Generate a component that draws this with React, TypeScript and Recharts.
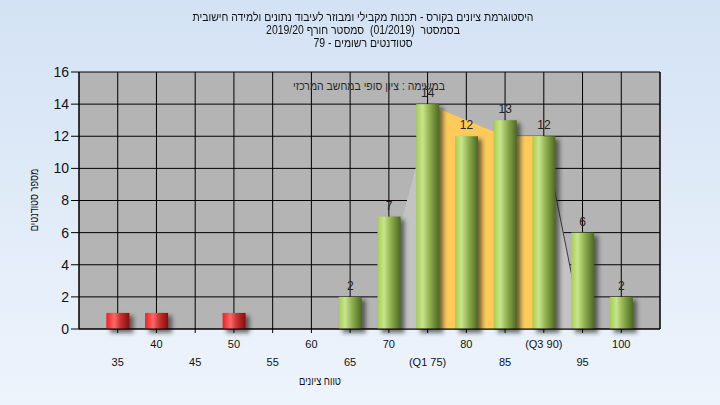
import { ComposedChart, Bar, Area, Line, XAxis, YAxis, CartesianGrid, LabelList } from "recharts";

// grade bins (x) and number of students in each bin
const categories = [35, 40, 45, 50, 55, 60, 65, 70, 75, 80, 85, 90, 95, 100];
const counts = [1, 1, 0, 1, 0, 0, 2, 7, 14, 12, 13, 12, 6, 2];
const tickLabels = ["35", "40", "45", "50", "55", "60", "65", "70", "(Q1 75)", "80", "85", "(Q3 90)", "95", "100"];
const passMark = 60; // bins below this are drawn red

// background shading
const spreadArea = [null, null, null, null, null, null, null, 3.8, 12.8, 12, 12, 12, 0, null];
const iqrArea = [null, null, null, null, null, null, null, null, 14, null, 12, 12, null, null];
const tailLine = [null, null, null, null, null, null, null, null, null, null, null, 12, 0, null];

const yTicks = [0, 2, 4, 6, 8, 10, 12, 14, 16];

const data = categories.map((c, i) => ({
  grade: c,
  count: counts[i],
  spread: spreadArea[i],
  iqr: iqrArea[i],
  tail: tailLine[i],
}));

const font = "'Liberation Sans', Arial, 'DejaVu Sans', sans-serif";

function GradeTick(props: any) {
  const { x, y, payload } = props;
  const i = categories.indexOf(payload.value);
  const lower = i % 2 === 0;
  return (
    <text x={x} y={y + (lower ? 31 : 13)} textAnchor="middle" fontSize={11} fill="#111">
      {tickLabels[i]}
    </text>
  );
}

function ShadedBar(props: any) {
  const { x, y, width, height, payload } = props;
  if (!height || height <= 0) return null;
  const grad = payload.grade < passMark ? "url(#failGrad)" : "url(#passGrad)";
  return (
    <g>
      <rect x={x + 4} y={y + 3} width={width} height={height + 1} fill="#1e1e1e" opacity={0.6} filter="url(#barShadow)" />
      <rect x={x} y={y} width={width} height={height} fill={grad} />
    </g>
  );
}

function CountLabel(props: any) {
  const { x, y, width, value, index } = props;
  if (!value || categories[index] < passMark) return null;
  return (
    <text x={x + width / 2} y={y - 7} textAnchor="middle" fontSize={12} fill="#222">
      {value}
    </text>
  );
}

export default function App() {
  return (
    <div
      style={{
        position: "absolute",
        left: 0,
        top: 0,
        width: 720,
        height: 405,
        background: "linear-gradient(to bottom, #d3e2f4, #eef4fc)",
        fontFamily: font,
        color: "#111",
      }}
    >
      <div
        dir="rtl"
        style={{
          position: "absolute",
          left: 0,
          top: 11,
          width: 726,
          textAlign: "center",
          fontSize: 12,
          lineHeight: "13px",
          whiteSpace: "pre",
          transform: "scaleX(0.87)",
          transformOrigin: "363px 0",
        }}
      >
        <div>היסטוגרמת ציונים בקורס - תכנות מקבילי ומבוזר לעיבוד נתונים ולמידה חישובית</div>
        <div>בסמסטר  (01/2019)  סמסטר חורף 2019/20</div>
        <div>סטודנטים רשומים - 79</div>
      </div>

      <ComposedChart width={720} height={405} data={data} margin={{ top: 72, right: 0, bottom: 0, left: 0 }}>
        <defs>
          <linearGradient id="passGrad" x1="0" y1="0" x2="1" y2="0">
            <stop offset="0%" stopColor="#a6cf4c" />
            <stop offset="28%" stopColor="#c8e48f" />
            <stop offset="55%" stopColor="#94b652" />
            <stop offset="100%" stopColor="#4d6726" />
          </linearGradient>
          <linearGradient id="failGrad" x1="0" y1="0" x2="1" y2="0">
            <stop offset="0%" stopColor="#f81c1c" />
            <stop offset="35%" stopColor="#f66a6a" />
            <stop offset="60%" stopColor="#cc3232" />
            <stop offset="100%" stopColor="#801010" />
          </linearGradient>
          <filter id="barShadow" x="-50%" y="-50%" width="200%" height="200%">
            <feGaussianBlur stdDeviation="2" />
          </filter>
        </defs>
        <CartesianGrid yAxisId="left" fill="#b4b4b4" fillOpacity={1} stroke="#000" strokeWidth={1} />
        <XAxis
          dataKey="grade"
          type="number"
          domain={[30, 105]}
          ticks={categories}
          interval={0}
          height={76}
          tickSize={4}
          tickLine={{ stroke: "#000" }}
          axisLine={{ stroke: "#000" }}
          tick={<GradeTick />}
        />
        <YAxis
          yAxisId="left"
          domain={[0, 16]}
          ticks={yTicks}
          width={79}
          tickSize={8}
          tickLine={{ stroke: "#000" }}
          axisLine={{ stroke: "#000" }}
          tick={{ fontSize: 14, fill: "#111" }}
        />
        <YAxis
          yAxisId="right"
          orientation="right"
          domain={[0, 16]}
          ticks={yTicks}
          width={60}
          tickSize={8}
          tickLine={{ stroke: "#000" }}
          axisLine={{ stroke: "#000" }}
          tick={{ fontSize: 14, fill: "#111" }}
        />
        <Area
          yAxisId="left"
          dataKey="spread"
          type="linear"
          fill="#c3c3c3"
          fillOpacity={1}
          stroke="none"
          connectNulls
          dot={false}
          activeDot={false}
          isAnimationActive={false}
        />
        <Area
          yAxisId="left"
          dataKey="iqr"
          type="linear"
          fill="#fecb5b"
          fillOpacity={1}
          stroke="none"
          connectNulls
          dot={false}
          activeDot={false}
          isAnimationActive={false}
        />
        <Line
          yAxisId="left"
          dataKey="tail"
          type="linear"
          stroke="#3a3a3a"
          strokeWidth={1}
          dot={false}
          activeDot={false}
          zIndex={150}
          isAnimationActive={false}
        />
        <Bar yAxisId="left" dataKey="count" barSize={23} shape={<ShadedBar />} isAnimationActive={false}>
          <LabelList dataKey="count" content={<CountLabel />} />
        </Bar>
      </ComposedChart>

      <div
        dir="rtl"
        style={{
          position: "absolute",
          left: 369,
          top: 79,
          transform: "translateX(-50%) scaleX(0.87)",
          fontSize: 12,
          whiteSpace: "pre",
          color: "#2a2a2a",
        }}
      >
        במשימה : ציון סופי במחשב המרכזי
      </div>
      <div
        dir="rtl"
        style={{
          position: "absolute",
          left: 320,
          top: 374,
          transform: "translateX(-50%) scaleX(0.78)",
          fontSize: 12,
          whiteSpace: "nowrap",
        }}
      >
        טווח ציונים
      </div>
      <div
        dir="rtl"
        style={{
          position: "absolute",
          left: 34,
          top: 200,
          transform: "translate(-50%, -50%) rotate(-90deg) scaleX(0.76)",
          fontSize: 12,
          whiteSpace: "nowrap",
        }}
      >
        מספר סטודנטים
      </div>
    </div>
  );
}
